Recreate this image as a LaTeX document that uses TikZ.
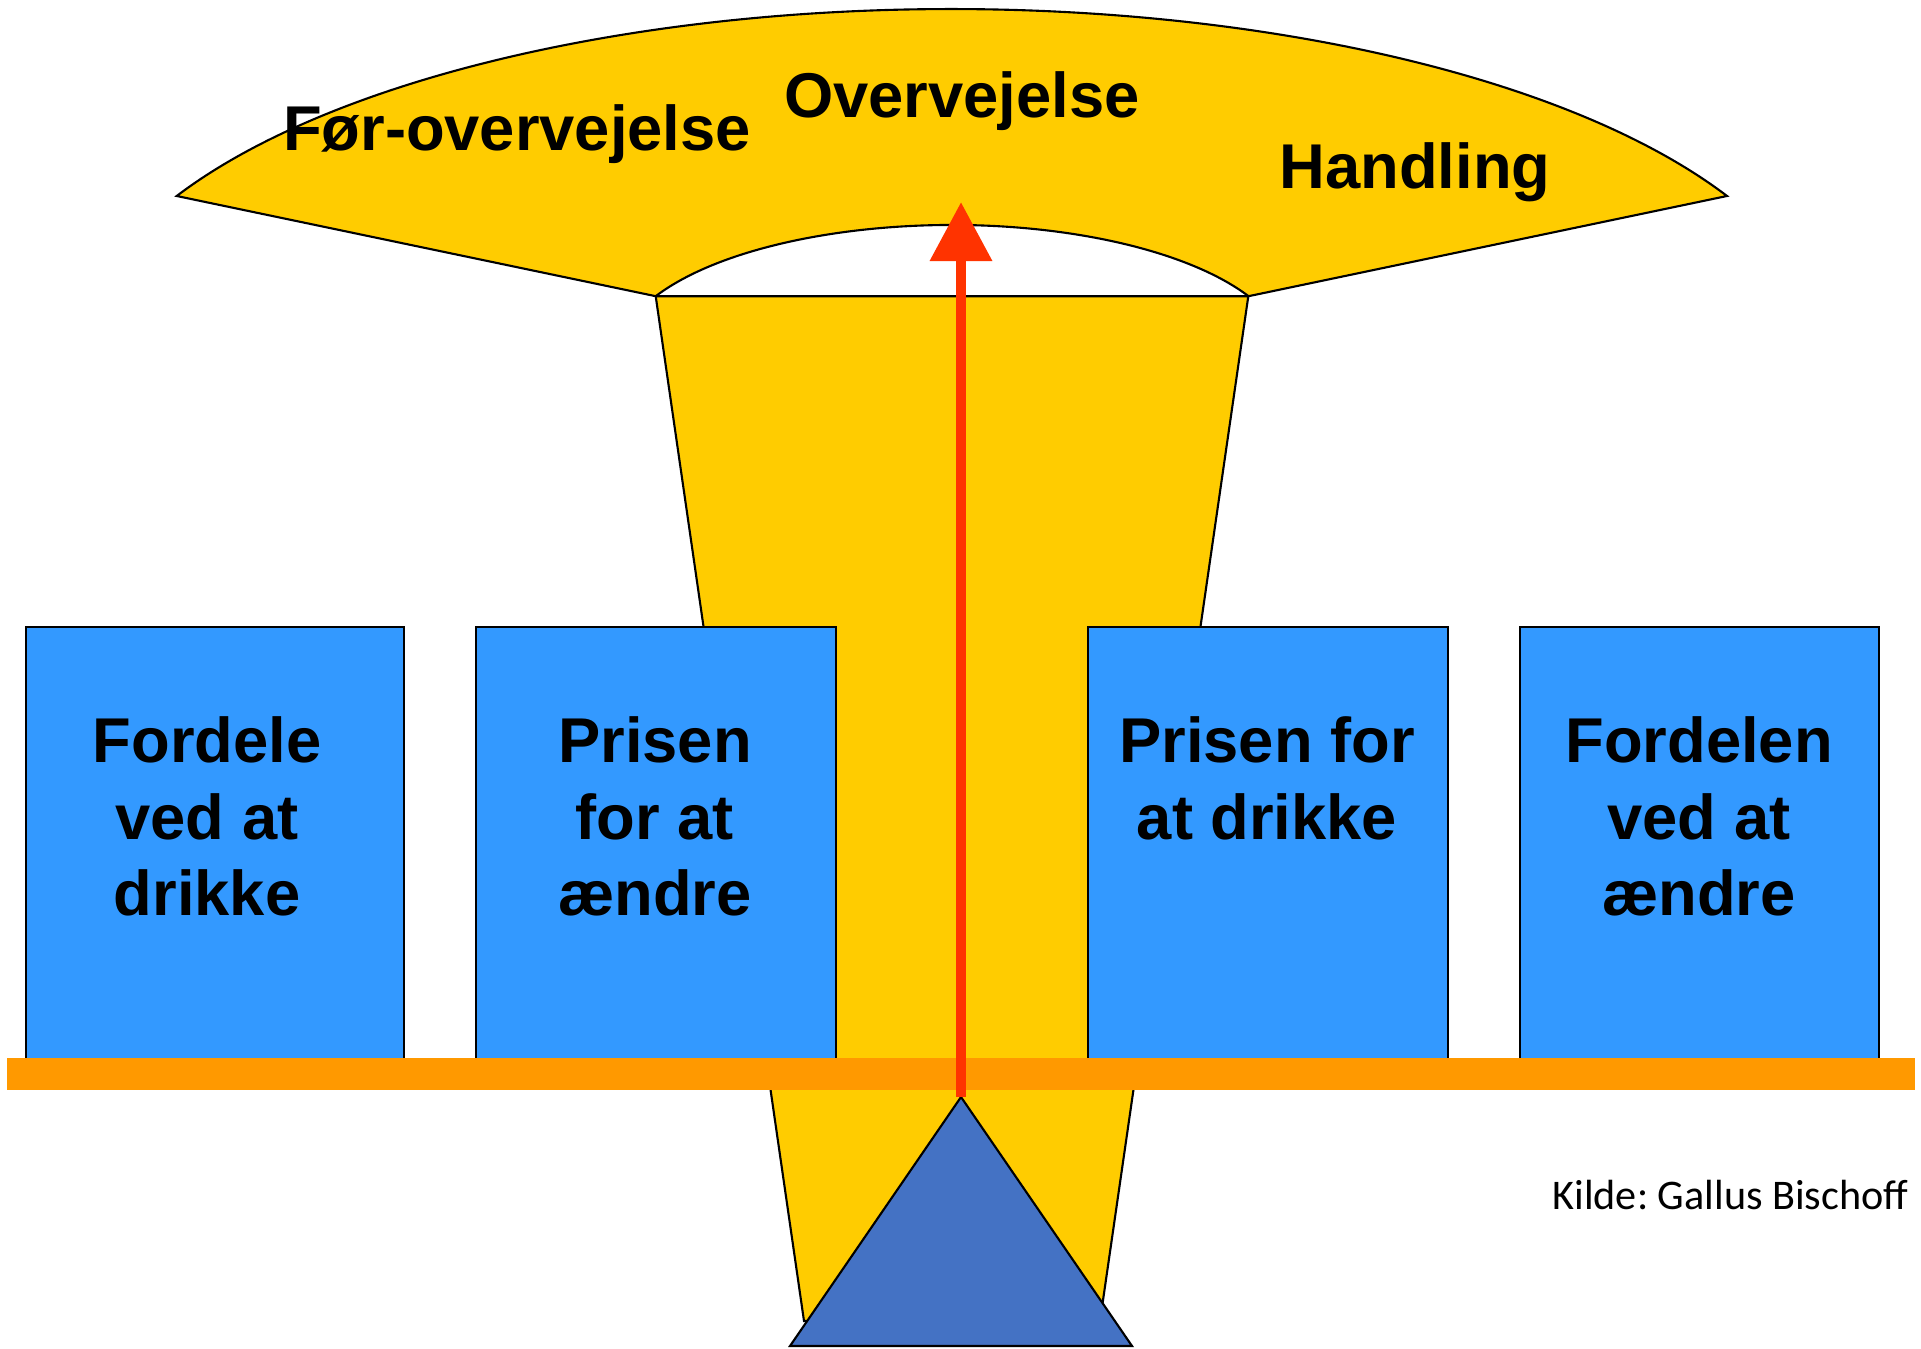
\documentclass[tikz,border=0pt]{standalone}
\usepackage{fontspec}
\setmainfont{Liberation Sans}
\newfontfamily\calfont{Carlito}
\usetikzlibrary{arrows.meta}
\definecolor{funnelyellow}{HTML}{FFCC00}
\definecolor{boxblue}{HTML}{3399FF}
\definecolor{barorange}{HTML}{FF9900}
\definecolor{arrowred}{HTML}{FF3300}
\definecolor{triblue}{HTML}{4472C4}
\tikzset{
  outline/.style={draw=black, line width=0.6pt},
  bluebox/.style={outline, fill=boxblue, rectangle, minimum width=3.78cm, minimum height=4.32cm, inner sep=0pt, anchor=north west},
  boxtext/.style={font=\bfseries\fontsize{18}{21.8}\selectfont, align=center, inner sep=0pt, anchor=north},
  stagetext/.style={font=\bfseries\fontsize{18}{21.8}\selectfont, inner sep=0pt, anchor=base},
}
\begin{document}
\begin{tikzpicture}[x=0.01cm,y=-0.01cm]
\useasboundingbox (0,0) rectangle (1921,1349);
% top funnel (block arc)
\draw[outline, fill=funnelyellow] (1727,196)
  arc[start angle=27.7, end angle=152.3, x radius=8.75cm, y radius=3.49cm]
  -- (655.7,296.2)
  arc[start angle=152.3, end angle=27.7, x radius=3.346cm, y radius=1.33cm]
  -- cycle;
% trapezoid stem
\draw[outline, fill=funnelyellow] (655.7,296.2) -- (1248.3,296.2) -- (1100,1321) -- (804,1321) -- cycle;
% stage labels
\node[stagetext] (pre) at (517,151) {Før-overvejelse};
\node[stagetext] (cons) at (962,118) {Overvejelse};
\node[stagetext] (act) at (1415,189) {Handling};
% boxes
\node[bluebox, minimum width=3.78cm] (b1) at (25,626) {};
\node[bluebox, minimum width=3.60cm] (b2) at (475,626) {};
\node[bluebox, minimum width=3.60cm] (b3) at (1087,626) {};
\node[bluebox, minimum width=3.59cm] (b4) at (1519,626) {};
\node[boxtext] (t1) at (207,716) {Fordele\\ved at\\drikke};
\node[boxtext] (t2) at (655,716) {Prisen\\for at\\ændre};
\node[boxtext] (t3) at (1267,716) {Prisen for\\at drikke};
\node[boxtext] (t4) at (1699,716) {Fordelen\\ved at\\ændre};
% bar
\fill[barorange] (7,1058) rectangle (1915,1090);
% fulcrum
\coordinate (apex) at (961,1097);
\coordinate (tip) at (961,202);
\draw[outline, fill=triblue] (apex) -- (1132,1346) -- (790,1346) -- cycle;
% arrow
\draw[arrowred, line width=3.1pt, -{Triangle[width=17pt,length=16.8pt]}] (apex) -- (tip);
% source
\node[font=\calfont\fontsize{12}{14}\selectfont\frenchspacing, inner sep=0pt, anchor=base east] (src) at (1909,1209) {Kilde: Gallus Bischoff};
\end{tikzpicture}
\end{document}
